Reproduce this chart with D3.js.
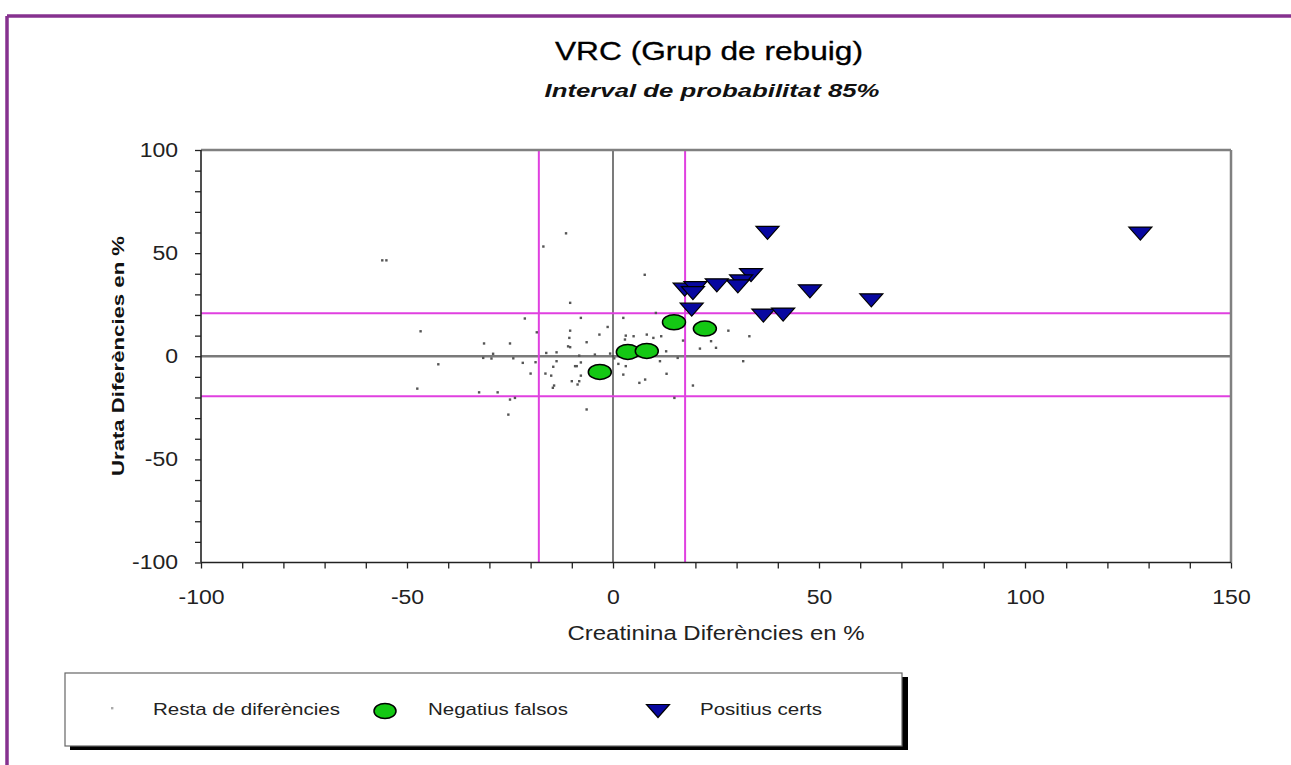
<!DOCTYPE html>
<html>
<head>
<meta charset="utf-8">
<script src="https://cdn.jsdelivr.net/npm/d3@7"></script>
<style>
body{margin:0;background:#fff}
text{font-family:"Liberation Sans",Arial,sans-serif}
</style>
</head>
<body>
<div id="chart"></div>
<script>
// dades llegides del grafic
var titol="VRC (Grup de rebuig)"
var subtitol="Interval de probabilitat 85%"
var titolX="Creatinina Diferències en %"
var titolY="Urata Diferències en %"
var seriesNoms=["Resta de diferències","Negatius falsos","Positius certs"]
var xTicks=[-100,-50,0,50,100,150]
var yTicks=[-100,-50,0,50,100]
var limitsX=[-18,17.5]
var limitsY=[20.8,-19.4]

var resta=[[-56,46.5],[-55,46.5],[-16.9,53.2],[-11.4,59.6],[7.7,39.5],[-10.4,25.9],[-21.4,18.3],[-7.8,18.6],
[2.5,18.6],[10.4,21],[-46.7,12.1],[-18.5,11.6],[-10.4,12.4],[-10.6,8.9],[-10.9,4.8],[-3.3,10.5],[-1.3,14.2],
[3.1,10],[5,9.7],[8.2,10.5],[9.8,8.9],[11.7,9.7],[-6.4,6.8],[2.9,8.1],[-31.3,6.2],[-25,6.2],[-10.4,4.4],
[-29.1,1.2],[-16.2,1.6],[-13.7,1.9],[-8.2,0.3],[-4.4,0.8],[-0.7,1.3],[-31.5,-0.8],[-29.5,-1.1],[-24.2,-1],
[-42.4,-3.9],[-21.9,-3.2],[-18.8,-2.9],[-13.7,-2.4],[-14.5,-5.1],[-7.8,-3],[-8.8,-4.8],[-9.2,-4.8],[1.3,-3.7],
[3.1,-4.8],[-20,-8.4],[-16.4,-8.4],[-15,-9.4],[-7.8,-9.4],[2.5,-8.9],[-10,-12.1],[-8.2,-12.1],[-14.3,-14.2],
[-14.6,-15.3],[-8.6,-13.7],[6.4,-12.9],[7.8,-11.3],[13,-8.5],[-47.5,-15.7],[-32.5,-17.5],[-28,-17.5],[-25,-21],
[-23.8,-20.2],[14.9,-20.2],[-6.4,-25.8],[-25.4,-28.3],[19.4,-14.2],[17,7.6],[12.9,2.4],[23.8,7.3],[25,4.1],
[21.1,3.7],[28,12.4],[33.1,9.7],[31.6,-2.4],[15.7,-0.8],[11.4,-2.4],[0.3,-1]]
var negatius=[[-3.2,-7.6],[3.6,2.1],[8.2,2.6],[14.8,16.5],[22.3,13.4]]
var positius=[[128,59.5],[37.5,59.8],[33.5,39.3],[31.1,36.3],[30.3,33.9],[25.2,34.4],[17.4,32.3],[20,33],
[19.4,30.6],[47.8,31.5],[62.7,27.1],[19.1,22.6],[36.5,19.7],[41.3,20.2]]

var width=1291,height=765
var svg=d3.select("#chart").append("svg")
	.attr("width",width)
	.attr("height",height)

var x=d3.scaleLinear().domain([-100,150]).range([201,1231])
var y=d3.scaleLinear().domain([-100,100]).range([562.5,150])

// estira el text en horitzontal com a la imatge original
function estira(sel,k,ample){
	sel.each(function(){
		var w=ample||this.getComputedTextLength()*k
		d3.select(this).attr("textLength",w).attr("lengthAdjust","spacingAndGlyphs")
	})
}

// marc lila exterior
svg.append("line").attr("x1",7).attr("x2",width).attr("y1",16).attr("y2",16)
	.attr("stroke","#86318f").attr("stroke-width",3.5)
svg.append("line").attr("x1",7).attr("x2",7).attr("y1",16).attr("y2",height)
	.attr("stroke","#86318f").attr("stroke-width",3.5)

// titols
svg.append("text").attr("x",709).attr("y",60).attr("text-anchor","middle")
	.attr("font-size","25px").attr("fill","#000").attr("stroke","#000").attr("stroke-width",0.3)
	.text(titol).call(estira,1,308)
svg.append("text").attr("x",712).attr("y",97).attr("text-anchor","middle")
	.attr("font-size","19px").attr("font-weight","bold").attr("font-style","italic")
	.attr("fill","#111").text(subtitol).call(estira,1,335)

var plot=svg.append("g")

// linies de zero
plot.append("line").attr("x1",x(-100)).attr("x2",x(150)).attr("y1",y(0)).attr("y2",y(0))
	.attr("stroke","#7a7a7a").attr("stroke-width",2.5)
plot.append("line").attr("x1",x(0)).attr("x2",x(0)).attr("y1",y(100)).attr("y2",y(-100))
	.attr("stroke","#333").attr("stroke-width",1.3)

// limits de l'interval
plot.selectAll(".limX").data(limitsX).enter().append("line")
	.attr("x1",function(d){return x(d)}).attr("x2",function(d){return x(d)})
	.attr("y1",y(100)).attr("y2",y(-100))
	.attr("stroke","#e040e0").attr("stroke-width",2)
plot.selectAll(".limY").data(limitsY).enter().append("line")
	.attr("x1",x(-100)).attr("x2",x(150))
	.attr("y1",function(d){return y(d)}).attr("y2",function(d){return y(d)})
	.attr("stroke","#e040e0").attr("stroke-width",2)

// resta de diferencies
plot.selectAll(".resta").data(resta).enter().append("rect")
	.attr("x",function(d){return x(d[0])-1.2})
	.attr("y",function(d){return y(d[1])-1.2})
	.attr("width",2.4).attr("height",2.4)
	.attr("fill","#555")

// negatius falsos
plot.selectAll(".neg").data(negatius).enter().append("ellipse")
	.attr("cx",function(d){return x(d[0])})
	.attr("cy",function(d){return y(d[1])})
	.attr("rx",11.5).attr("ry",7.5)
	.attr("fill","#14c814").attr("stroke","#000").attr("stroke-width",1.5)

// positius certs
function triangle(w,h){
	return "M"+(-w/2)+","+(-h/2)+"L"+(w/2)+","+(-h/2)+"L0,"+(h/2)+"Z"
}
plot.selectAll(".pos").data(positius).enter().append("path")
	.attr("d",triangle(23,13))
	.attr("transform",function(d){return "translate("+x(d[0])+","+y(d[1])+")"})
	.attr("fill","#0808a0").attr("stroke","#000").attr("stroke-width",1.2)

// marc de l'area
plot.append("line").attr("x1",x(-100)).attr("x2",x(150)).attr("y1",y(100)).attr("y2",y(100))
	.attr("stroke","#808080").attr("stroke-width",2.5)
plot.append("line").attr("x1",x(150)).attr("x2",x(150)).attr("y1",y(100)).attr("y2",y(-100))
	.attr("stroke","#808080").attr("stroke-width",2.5)
plot.append("line").attr("x1",x(-100)).attr("x2",x(-100)).attr("y1",y(100)).attr("y2",y(-100))
	.attr("stroke","#222").attr("stroke-width",1.6)
plot.append("line").attr("x1",x(-100)).attr("x2",x(150)).attr("y1",y(-100)).attr("y2",y(-100))
	.attr("stroke","#222").attr("stroke-width",1.6)

// eixos
var yAxis=d3.axisLeft(y).tickValues(d3.range(-100,101,10)).tickSize(6).tickPadding(17)
	.tickFormat(function(d){return yTicks.indexOf(d)>=0?d:""})
var gy=svg.append("g").attr("transform","translate("+x(-100)+",0)").call(yAxis)
var xAxis=d3.axisBottom(x).tickValues(d3.range(-100,151,10)).tickSize(6).tickPadding(21)
	.tickFormat(function(d){return xTicks.indexOf(d)>=0?d:""})
var gx=svg.append("g").attr("transform","translate(0,"+y(-100)+")").call(xAxis)

;[gx,gy].forEach(function(g){
	g.select(".domain").remove()
	g.selectAll(".tick line").attr("stroke","#222").attr("stroke-width",1.3)
	g.selectAll(".tick text").attr("font-size","20px").attr("fill","#222")
		.attr("font-family","Liberation Sans, Arial, sans-serif")
	g.selectAll(".tick text").filter(function(){return this.textContent!==""}).call(estira,1.15)
})

svg.append("text").attr("x",716).attr("y",640).attr("text-anchor","middle")
	.attr("font-size","20px").attr("fill","#222").text(titolX).call(estira,1,297)
svg.append("text").attr("transform","translate(124,356) rotate(-90)").attr("text-anchor","middle")
	.attr("font-size","17px").attr("font-weight","bold").attr("fill","#111").text(titolY).call(estira,1,240)

// llegenda
var leg=svg.append("g")
leg.append("rect").attr("x",70).attr("y",677).attr("width",838).attr("height",73).attr("fill","#000")
leg.append("rect").attr("x",65).attr("y",673).attr("width",837).attr("height",73)
	.attr("fill","#fff").attr("stroke","#666").attr("stroke-width",1.2)

leg.append("rect").attr("x",111).attr("y",707).attr("width",2.4).attr("height",2.4).attr("fill","#aaa")
leg.append("ellipse").attr("cx",385).attr("cy",711).attr("rx",11).attr("ry",7.5)
	.attr("fill","#14c814").attr("stroke","#000").attr("stroke-width",1.5)
leg.append("path").attr("d",triangle(23,13)).attr("transform","translate(658,711)")
	.attr("fill","#0808a0").attr("stroke","#000").attr("stroke-width",1.2)

var legX=[153,428,700]
var legW=[187,140,122]
leg.selectAll(".lt").data(seriesNoms).enter().append("text")
	.attr("x",function(d,i){return legX[i]}).attr("y",715)
	.attr("font-size","17px").attr("fill","#222")
	.text(function(d){return d})
	.each(function(d,i){d3.select(this).call(estira,1,legW[i])})
</script>
</body>
</html>
